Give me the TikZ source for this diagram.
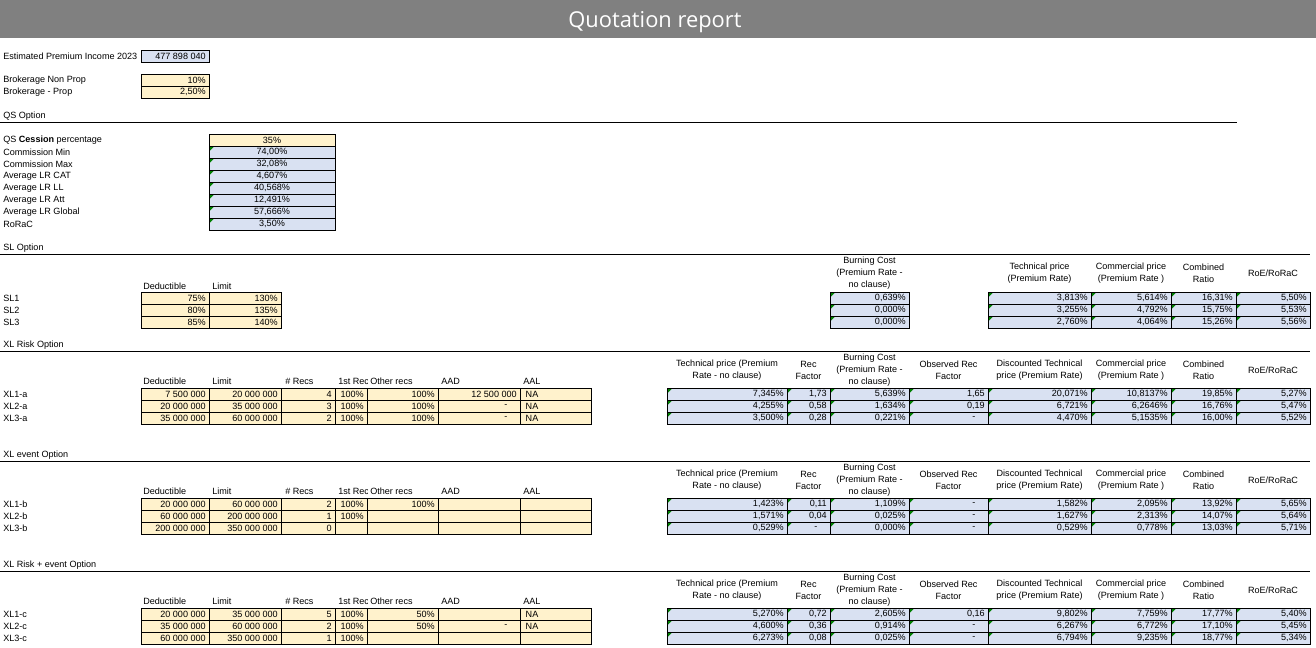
\documentclass[tikz,border=0pt]{standalone}
\usepackage{fontspec}
\setmainfont{Liberation Sans}
\newfontfamily\headfont{Open Sans}
\definecolor{cellorange}{HTML}{FFF2CC}
\definecolor{cellblue}{HTML}{D9E1F2}
\definecolor{bargray}{HTML}{808080}
\definecolor{flaggreen}{HTML}{008000}
\newcommand\valfont{\fontsize{6.8}{9}\selectfont}
\newcommand\NA{\makebox[46.5pt][l]{NA}}
\newcommand\nil{-\rule{7pt}{0pt}}
\tikzset{
  orangebox/.style={draw=black, line width=0.75pt, fill=cellorange},
  bluebox/.style={draw=black, line width=0.75pt, fill=cellblue},
  blueflag/.style={bluebox, path picture={\fill[flaggreen] (path picture bounding box.north west) -- ++(5.5,0) -- ++(-5.5,5.5) -- cycle;}},
  val/.style={anchor=east, inner sep=0pt, font=\valfont},
  lbl/.style={anchor=west, inner sep=0pt, font=\valfont},
  hdr/.style={align=center, inner sep=0pt, font=\valfont},
  rule/.style={line width=0.75pt}
}
\newcommand\cellrow[5]{%
  \foreach \txt [count=\i] in {#5}{
    \pgfmathsetmacro\xa{{#4}[\i-1]}
    \pgfmathsetmacro\xb{{#4}[\i]}
    \draw[#1] (\xa,#2) rectangle (\xb,#2+12);
    \node[val] (#3-\i) at (\xb-3,#2+6) {\txt};
  }}
\newcommand\xlsection[3]{%
  \node[lbl] (#3) at (3,#1) {#2};
  \draw[rule] (0,#1+6) -- (1310,#1+6);
  \foreach \hx/\htxt [count=\i] in {143/Deductible, 212/Limit, 285/\# Recs, 370/Other recs, 441/AAD, 523/AAL}
    \node[lbl] (#3-lh\i) at (\hx,#1+36) {\htxt};
  \begin{scope}
    \clip (335,#1+30) rectangle (367,#1+42);
    \node[lbl] (#3-lh7) at (338,#1+36) {1st Rec};
  \end{scope}
  \foreach \hx/\htxt [count=\i] in {727/{Technical price (Premium\\Rate - no clause)}, 808.5/{Rec\\Factor},
      869.5/{Burning Cost\\(Premium Rate -\\no clause)}, 948.5/{Observed Rec\\Factor},
      1039.5/{Discounted Technical\\price (Premium Rate)}, 1131/{Commercial price\\(Premium Rate )},
      1203.5/{Combined\\Ratio}, 1273/{RoE/RoRaC}}
    \node[hdr] (#3-rh\i) at (\hx,#1+25) {\htxt};
}
\newcommand\xlrow[5]{%
  \node[lbl] (#3) at (3,#1+6) {#2};
  \cellrow{orangebox}{#1}{#3-l}{141,209,281,335,367,438,520,591}{#4}
  \cellrow{blueflag}{#1}{#3-r}{667,787,830,909,988,1091,1171,1236,1310}{#5}
}

\begin{document}
\begin{tikzpicture}[x=0.75pt, y=-0.75pt]
\useasboundingbox (0,0) rectangle (1316,647);
\fill[bargray] (0,0) rectangle (1316,38);
\node[font=\headfont\fontsize{16.4}{18}\selectfont, text=white, anchor=base] (title) at (655,27.3) {Quotation report};

\node[lbl] (epi) at (3,56) {Estimated Premium Income 2023};
\cellrow{bluebox}{50}{epi-v}{141,209}{{477 898 040}}
\node[lbl] (bnp) at (3,80) {Brokerage Non Prop};
\cellrow{orangebox}{74}{bnp-v}{141,209}{10\%}
\node[lbl] (bp) at (3,92) {Brokerage - Prop};
\cellrow{orangebox}{86}{bp-v}{141,209}{{2,50\%}}

\node[lbl] (qs) at (3,116) {QS Option};
\draw[rule] (0,122) -- (1237,122);
\foreach \lab/\v/\sty [count=\i] in {{QS \textbf{Cession} percentage}/35\%/orangebox,
    {Commission Min}/{74,00\%}/blueflag, {Commission Max}/{32,08\%}/blueflag,
    {Average LR CAT}/{4,607\%}/blueflag, {Average LR LL}/{40,568\%}/blueflag,
    {Average LR Att}/{12,491\%}/blueflag, {Average LR Global}/{57,666\%}/blueflag,
    RoRaC/{3,50\%}/blueflag}{
  \draw[\sty] (209,122+12*\i) rectangle (335,134+12*\i);
  \node[lbl] (qs-l\i) at (3,128+12*\i) {\lab};
  \node[hdr] (qs-v\i) at (272,128+12*\i) {\v};
}

\node[lbl] (sl) at (3,248) {SL Option};
\draw[rule] (0,254) -- (1310,254);
\node[lbl] (sl-h1) at (143,286) {Deductible};
\node[lbl] (sl-h2) at (212,286) {Limit};
\foreach \hx/\htxt [count=\i] in {869.5/{Burning Cost\\(Premium Rate -\\no clause)},
    1039.5/{Technical price\\(Premium Rate)}, 1131/{Commercial price\\(Premium Rate )},
    1203.5/{Combined\\Ratio}, 1273/{RoE/RoRaC}}
  \node[hdr] (sl-rh\i) at (\hx,273) {\htxt};
\node[lbl] (sl1) at (3,298) {SL1};
\cellrow{orangebox}{292}{sl1-l}{141,209,281}{75\%, 130\%}
\cellrow{blueflag}{292}{sl1-b}{830,909}{{0,639\%}}
\cellrow{blueflag}{292}{sl1-r}{988,1091,1171,1236,1310}{{3,813\%}, {5,614\%}, {16,31\%}, {5,50\%}}
\node[lbl] (sl2) at (3,310) {SL2};
\cellrow{orangebox}{304}{sl2-l}{141,209,281}{80\%, 135\%}
\cellrow{blueflag}{304}{sl2-b}{830,909}{{0,000\%}}
\cellrow{blueflag}{304}{sl2-r}{988,1091,1171,1236,1310}{{3,255\%}, {4,792\%}, {15,75\%}, {5,53\%}}
\node[lbl] (sl3) at (3,322) {SL3};
\cellrow{orangebox}{316}{sl3-l}{141,209,281}{85\%, 140\%}
\cellrow{blueflag}{316}{sl3-b}{830,909}{{0,000\%}}
\cellrow{blueflag}{316}{sl3-r}{988,1091,1171,1236,1310}{{2,760\%}, {4,064\%}, {15,26\%}, {5,56\%}}

\xlsection{345}{XL Risk Option}{xla}
\xlrow{388}{XL1-a}{xl1a}{{7 500 000}, {20 000 000}, 4, 100\%, 100\%, {12 500 000}, \NA}
  {{7,345\%}, {1,73}, {5,639\%}, {1,65}, {20,071\%}, {10,8137\%}, {19,85\%}, {5,27\%}}
\xlrow{400}{XL2-a}{xl2a}{{20 000 000}, {35 000 000}, 3, 100\%, 100\%, \nil, \NA}
  {{4,255\%}, {0,58}, {1,634\%}, {0,19}, {6,721\%}, {6,2646\%}, {16,76\%}, {5,47\%}}
\xlrow{412}{XL3-a}{xl3a}{{35 000 000}, {60 000 000}, 2, 100\%, 100\%, \nil, \NA}
  {{3,500\%}, {0,28}, {0,221\%}, \nil, {4,470\%}, {5,1535\%}, {16,00\%}, {5,52\%}}

\xlsection{455}{XL event Option}{xlb}
\xlrow{498}{XL1-b}{xl1b}{{20 000 000}, {60 000 000}, 2, 100\%, 100\%, {}, {}}
  {{1,423\%}, {0,11}, {1,109\%}, \nil, {1,582\%}, {2,095\%}, {13,92\%}, {5,65\%}}
\xlrow{510}{XL2-b}{xl2b}{{60 000 000}, {200 000 000}, 1, 100\%, {}, {}, {}}
  {{1,571\%}, {0,04}, {0,025\%}, \nil, {1,627\%}, {2,313\%}, {14,07\%}, {5,64\%}}
\xlrow{522}{XL3-b}{xl3b}{{200 000 000}, {350 000 000}, 0, {}, {}, {}, {}}
  {{0,529\%}, \nil, {0,000\%}, \nil, {0,529\%}, {0,778\%}, {13,03\%}, {5,71\%}}

\xlsection{565}{XL Risk + event Option}{xlc}
\xlrow{608}{XL1-c}{xl1c}{{20 000 000}, {35 000 000}, 5, 100\%, 50\%, {}, \NA}
  {{5,270\%}, {0,72}, {2,605\%}, {0,16}, {9,802\%}, {7,759\%}, {17,77\%}, {5,40\%}}
\xlrow{620}{XL2-c}{xl2c}{{35 000 000}, {60 000 000}, 2, 100\%, 50\%, \nil, \NA}
  {{4,600\%}, {0,36}, {0,914\%}, \nil, {6,267\%}, {6,772\%}, {17,10\%}, {5,45\%}}
\xlrow{632}{XL3-c}{xl3c}{{60 000 000}, {350 000 000}, 1, 100\%, {}, {}, {}}
  {{6,273\%}, {0,08}, {0,025\%}, \nil, {6,794\%}, {9,235\%}, {18,77\%}, {5,34\%}}
\end{tikzpicture}
\end{document}
